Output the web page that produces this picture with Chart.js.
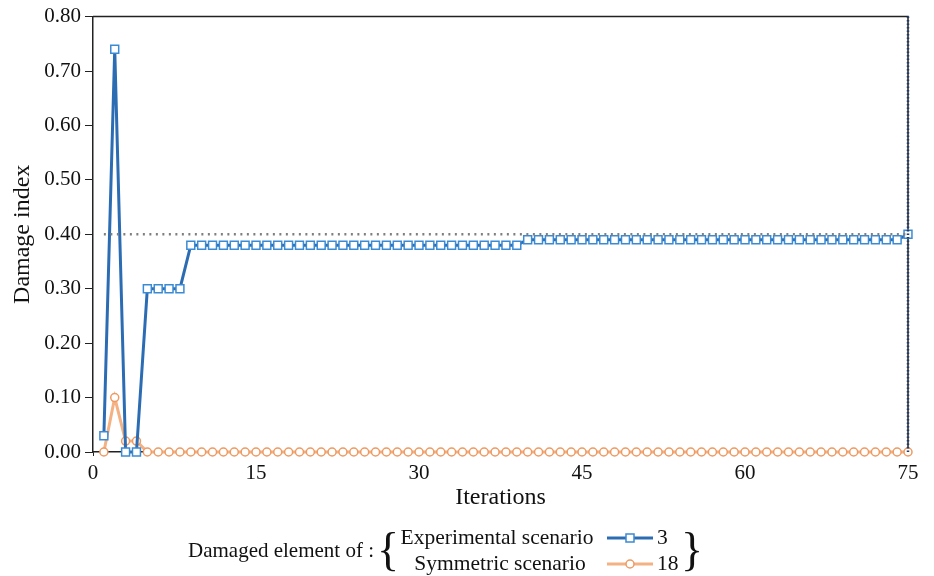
<!DOCTYPE html>
<html>
<head>
<meta charset="utf-8">
<title>Damage index</title>
<script src="https://cdn.jsdelivr.net/npm/chart.js@4.4.1/dist/chart.umd.min.js"></script>
<style>
  html, body { margin: 0; padding: 0; background: #fff; }
  #wrap { width: 934px; height: 576px; position: relative; }
</style>
</head>
<body>
<div id="wrap"><canvas id="damageChart"></canvas></div>
<script>
// iteration number on the x axis
const iterations = [
  1, 2, 3, 4, 5, 6, 7, 8, 9, 10, 11, 12, 13, 14, 15,
  16, 17, 18, 19, 20, 21, 22, 23, 24, 25, 26, 27, 28, 29, 30,
  31, 32, 33, 34, 35, 36, 37, 38, 39, 40, 41, 42, 43, 44, 45,
  46, 47, 48, 49, 50, 51, 52, 53, 54, 55, 56, 57, 58, 59, 60,
  61, 62, 63, 64, 65, 66, 67, 68, 69, 70, 71, 72, 73, 74, 75
];

// damage index of element 3 (experimental scenario)
const experimental = [
  0.03, 0.74, 0.00, 0.00, 0.30, 0.30, 0.30, 0.30, 0.38, 0.38, 0.38, 0.38, 0.38, 0.38, 0.38,
  0.38, 0.38, 0.38, 0.38, 0.38, 0.38, 0.38, 0.38, 0.38, 0.38, 0.38, 0.38, 0.38, 0.38, 0.38,
  0.38, 0.38, 0.38, 0.38, 0.38, 0.38, 0.38, 0.38, 0.38, 0.39, 0.39, 0.39, 0.39, 0.39, 0.39,
  0.39, 0.39, 0.39, 0.39, 0.39, 0.39, 0.39, 0.39, 0.39, 0.39, 0.39, 0.39, 0.39, 0.39, 0.39,
  0.39, 0.39, 0.39, 0.39, 0.39, 0.39, 0.39, 0.39, 0.39, 0.39, 0.39, 0.39, 0.39, 0.39, 0.40
];

// damage index of element 18 (symmetric scenario)
const symmetric = [
  0.00, 0.10, 0.02, 0.02, 0.00, 0.00, 0.00, 0.00, 0.00, 0.00, 0.00, 0.00, 0.00, 0.00, 0.00,
  0.00, 0.00, 0.00, 0.00, 0.00, 0.00, 0.00, 0.00, 0.00, 0.00, 0.00, 0.00, 0.00, 0.00, 0.00,
  0.00, 0.00, 0.00, 0.00, 0.00, 0.00, 0.00, 0.00, 0.00, 0.00, 0.00, 0.00, 0.00, 0.00, 0.00,
  0.00, 0.00, 0.00, 0.00, 0.00, 0.00, 0.00, 0.00, 0.00, 0.00, 0.00, 0.00, 0.00, 0.00, 0.00,
  0.00, 0.00, 0.00, 0.00, 0.00, 0.00, 0.00, 0.00, 0.00, 0.00, 0.00, 0.00, 0.00, 0.00, 0.00
];

// reference lines: true damage level and final iteration
const targetDamage = 0.40;
const targetFrom = 1;
const lastIteration = 75;
const yMax = 0.80;

const legendRows = [
  { scenario: "Experimental scenario", element: "3" },
  { scenario: "Symmetric scenario", element: "18" }
];

const BLUE = "#2C6CB3";
const BLUE_MARK = "#3B8BD4";
const ORANGE = "#F4B183";
const ORANGE_MARK = "#EE9A62";
const SERIF = "'Liberation Serif', 'DejaVu Serif', serif";

const toPoints = (xs, ys) => xs.map((x, i) => ({ x: x, y: ys[i] }));

// closed box around the plot area
const framePlugin = {
  id: "frame",
  beforeDatasetsDraw(chart) {
    const { ctx, chartArea: a } = chart;
    ctx.save();
    ctx.strokeStyle = "#222";
    ctx.lineWidth = 1.5;
    ctx.beginPath();
    ctx.moveTo(a.left, a.top);
    ctx.lineTo(a.right, a.top);
    ctx.lineTo(a.right, a.bottom);
    ctx.stroke();
    ctx.restore();
  }
};

// bracketed legend under the x axis title
const braceLegendPlugin = {
  id: "braceLegend",
  afterDraw(chart) {
    const ctx = chart.ctx;
    const rowY = [538, 564];
    const centers = [497, 500];
    const colors = [[BLUE, BLUE_MARK, "rect"], [ORANGE, ORANGE_MARK, "circle"]];
    ctx.save();
    ctx.fillStyle = "#111";
    ctx.textBaseline = "middle";
    ctx.font = "21px " + SERIF;
    ctx.textAlign = "right";
    ctx.fillText("Damaged element of :", 374, 551);

    ctx.font = "46px " + SERIF;
    ctx.textAlign = "left";
    ctx.fillText("{", 377, 553);
    ctx.fillText("}", 681, 553);

    ctx.font = "21.5px " + SERIF;
    legendRows.forEach((row, i) => {
      const y = rowY[i];
      ctx.fillStyle = "#111";
      ctx.textAlign = "center";
      ctx.fillText(row.scenario, centers[i], y);
      ctx.textAlign = "left";
      ctx.fillText(row.element, 657, y);

      const [line, mark, style] = colors[i];
      ctx.strokeStyle = line;
      ctx.lineWidth = 3;
      ctx.beginPath();
      ctx.moveTo(607, y);
      ctx.lineTo(653, y);
      ctx.stroke();
      ctx.fillStyle = "#fff";
      ctx.strokeStyle = mark;
      ctx.lineWidth = 1.5;
      ctx.beginPath();
      if (style === "rect") {
        ctx.rect(626, y - 4, 8, 8);
      } else {
        ctx.arc(630, y, 4, 0, Math.PI * 2);
      }
      ctx.fill();
      ctx.stroke();
    });
    ctx.restore();
  }
};

const ctx = document.getElementById("damageChart").getContext("2d");
const damageChart = new Chart(ctx, {
  type: "line",
  data: {
    datasets: [
      {
        label: "3",
        data: toPoints(iterations, experimental),
        borderColor: BLUE,
        borderWidth: 3,
        pointStyle: "rect",
        pointRadius: 5.6,
        pointBorderWidth: 1.5,
        pointBorderColor: BLUE_MARK,
        pointBackgroundColor: "#fff",
        tension: 0,
        clip: false,
        order: 1
      },
      {
        label: "18",
        data: toPoints(iterations, symmetric),
        borderColor: ORANGE,
        borderWidth: 3,
        pointStyle: "circle",
        pointRadius: 4,
        pointBorderWidth: 1.5,
        pointBorderColor: ORANGE_MARK,
        pointBackgroundColor: "#fff",
        tension: 0,
        clip: false,
        order: 2
      },
      {
        label: "target",
        data: [{ x: targetFrom, y: targetDamage }, { x: lastIteration, y: targetDamage }],
        borderColor: "#7F7F7F",
        borderWidth: 2.5,
        borderDash: [2, 4.5],
        pointRadius: 0,
        clip: false,
        order: 0
      },
      {
        label: "end",
        data: [{ x: lastIteration, y: 0 }, { x: lastIteration, y: yMax }],
        borderColor: "#1F3A6B",
        borderWidth: 2.5,
        borderDash: [1.5, 2],
        pointRadius: 0,
        clip: false,
        order: -1
      }
    ]
  },
  options: {
    responsive: true,
    maintainAspectRatio: false,
    animation: false,
    layout: { padding: { left: 0, top: 15, right: 26, bottom: 0 } },
    plugins: {
      legend: { display: false },
      tooltip: { enabled: false }
    },
    scales: {
      x: {
        type: "linear",
        min: 0,
        max: 75,
        afterFit(scale) { scale.height = 124; },
        ticks: {
          stepSize: 15,
          color: "#111",
          padding: 5,
          maxRotation: 0,
          font: { family: SERIF, size: 21 }
        },
        grid: { drawOnChartArea: false, drawTicks: true, tickLength: 4, color: "#222" },
        border: { display: true, color: "#222", width: 1.5 },
        title: {
          display: true,
          text: "Iterations",
          color: "#111",
          font: { family: SERIF, size: 24 },
          padding: { top: 0, bottom: 64 }
        }
      },
      y: {
        min: 0,
        max: yMax,
        afterFit(scale) { scale.width = 93; },
        ticks: {
          stepSize: 0.1,
          color: "#111",
          padding: 4,
          font: { family: SERIF, size: 21 },
          callback: (v) => v.toFixed(2)
        },
        grid: { drawOnChartArea: false, drawTicks: true, tickLength: 8, color: "#222" },
        border: { display: true, color: "#222", width: 1.5 },
        title: {
          display: true,
          text: "Damage index",
          color: "#111",
          font: { family: SERIF, size: 24 },
          padding: { top: 8, bottom: 0 }
        }
      }
    }
  },
  plugins: [framePlugin, braceLegendPlugin]
});
</script>
</body>
</html>
